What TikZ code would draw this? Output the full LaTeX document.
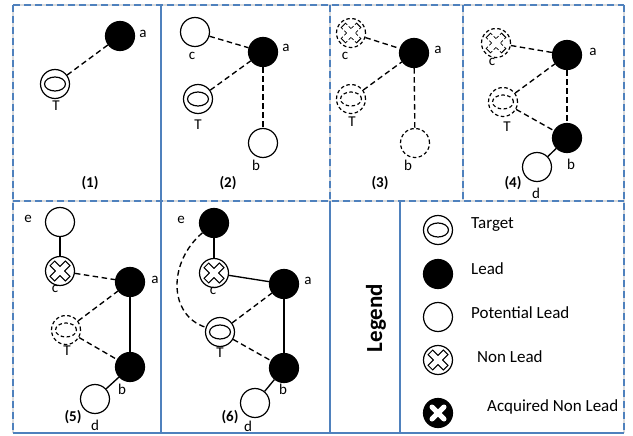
\documentclass[tikz,border=0pt]{standalone}
\usepackage{fontspec}
\setmainfont{Carlito}
\definecolor{frameblue}{RGB}{79,129,189}
\tikzset{
  x=1pt, y=-1pt,
  sym/.style={circle, minimum size=29pt, inner sep=0pt, line width=1.2pt},
  lead/.style={sym, draw, fill=black},
  plead/.style={sym, draw, fill=white},
  dplead/.style={sym, draw, fill=white, dash pattern=on 3.5pt off 2.5pt},
  tgt/.style={sym, draw, fill=white, path picture={
      \draw[line width=1.2pt, solid] (path picture bounding box.center) ellipse (10.5pt and 7pt);}},
  dtgt/.style={sym, draw, fill=white, dash pattern=on 3.5pt off 2.5pt, path picture={
      \draw[line width=1.2pt, dash pattern=on 3.5pt off 2.5pt] (path picture bounding box.center) ellipse (10.5pt and 7pt);}},
  nonlead/.style={sym, draw, fill=white, path picture={
      \draw[line width=7.6pt, black, solid]
        (path picture bounding box.center) ++(-8pt,-8pt) -- ++(16pt,16pt)
        (path picture bounding box.center) ++(-8pt,8pt) -- ++(16pt,-16pt);
      \draw[line width=5pt, white, solid]
        (path picture bounding box.center) ++(-7.2pt,-7.2pt) -- ++(14.4pt,14.4pt)
        (path picture bounding box.center) ++(-7.2pt,7.2pt) -- ++(14.4pt,-14.4pt);}},
  dnonlead/.style={sym, draw, fill=white, dash pattern=on 3.5pt off 2.5pt, path picture={
      \draw[line width=7pt, black, dash pattern=on 3pt off 2pt]
        (path picture bounding box.center) ++(-8pt,-8pt) -- ++(16pt,16pt)
        (path picture bounding box.center) ++(-8pt,8pt) -- ++(16pt,-16pt);
      \draw[line width=5pt, white, solid]
        (path picture bounding box.center) ++(-7.2pt,-7.2pt) -- ++(14.4pt,14.4pt)
        (path picture bounding box.center) ++(-7.2pt,7.2pt) -- ++(14.4pt,-14.4pt);}},
  acq/.style={sym, draw, fill=black, path picture={
      \draw[line width=5pt, white, line cap=round]
        (path picture bounding box.center) ++(-6pt,-6pt) -- ++(12pt,12pt)
        (path picture bounding box.center) ++(-6pt,6pt) -- ++(12pt,-12pt);}},
  conn/.style={line width=1.35pt, dash pattern=on 5.5pt off 3.5pt},
  sconn/.style={line width=1.35pt},
  lbl/.style={font=\fontsize{15}{17}\selectfont, inner sep=0pt},
  num/.style={font=\fontsize{15}{17}\selectfont\bfseries, inner sep=0pt},
  legt/.style={font=\fontsize{17}{20}\selectfont, anchor=west, inner sep=0pt},
  shade/.style={line width=2.6pt, black!14},
  frs/.style={line width=1.5pt, frameblue},
  frd/.style={line width=1.6pt, frameblue, dash pattern=on 7pt off 4pt},
}
\begin{document}
\begin{tikzpicture}
\useasboundingbox (0,0) rectangle (633,436);

% ---- panel frames ----
\foreach \p/\q in {{(13,5)}/{(624,5)}, {(13,5)}/{(13,433)}, {(624,5)}/{(624,433)},
                   {(13,201)}/{(624,201)}, {(330,5)}/{(330,201)}, {(463,5)}/{(463,201)}} {
  \draw[shade] \p -- \q;
  \draw[frd] \p -- \q;
}
\draw[frs] (13,433) -- (624,433);
\draw[frs] (161,5) -- (161,433);
\draw[frs] (330,201) -- (330,433);
\draw[frs] (400,201) -- (400,433);

% ---- (1) ----
\node[lead] (a1) at (120,36) {};
\node[tgt] (t1) at (55,84) {};
\draw[conn] (t1) -- (a1);
\node[lbl] (a1l) at (143,34) {a};
\node[lbl] (t1l) at (56,106) {T};
\node[num] (n1) at (90,183) {(1)};

% ---- (2) ----
\node[plead] (c2) at (195,32) {};
\node[lead] (a2) at (263,52) {};
\node[tgt] (t2) at (198,99) {};
\node[plead] (b2) at (263,143) {};
\draw[conn] (c2) -- (a2);
\draw[conn] (t2) -- (a2);
\draw[conn] (a2) -- (b2);
\node[lbl] (c2l) at (192,56) {c};
\node[lbl] (a2l) at (286,48) {a};
\node[lbl] (t2l) at (198,125) {T};
\node[lbl] (b2l) at (256,165) {b};
\node[num] (n2) at (228,183) {(2)};

% ---- (3) ----
\node[dnonlead] (c3) at (351,33) {};
\node[lead] (a3) at (414,53) {};
\node[dtgt] (t3) at (351,99) {};
\node[dplead] (b3) at (415,143) {};
\draw[conn] (c3) -- (a3);
\draw[conn] (t3) -- (a3);
\draw[conn] (a3) -- (b3);
\node[lbl] (c3l) at (345,56) {c};
\node[lbl] (a3l) at (438,50) {a};
\node[lbl] (t3l) at (352,122) {T};
\node[lbl] (b3l) at (408,165) {b};
\node[num] (n3) at (380,183) {(3)};

% ---- (4) ----
\node[dnonlead] (c4) at (496,43) {};
\node[lead] (a4) at (567,55) {};
\node[dtgt] (t4) at (503,102) {};
\node[lead] (b4) at (567,138) {};
\node[plead] (d4) at (537,167) {};
\draw[conn] (c4) -- (a4);
\draw[conn] (t4) -- (a4);
\draw[conn] (t4) -- (b4);
\draw[conn] (a4) -- (b4);
\draw[sconn] (b4) -- (d4);
\node[lbl] (c4l) at (492,62) {c};
\node[lbl] (a4l) at (593,52) {a};
\node[lbl] (t4l) at (507,127) {T};
\node[lbl] (b4l) at (571,164) {b};
\node[lbl] (d4l) at (536,193) {d};
\node[num] (n4) at (513,183) {(4)};

% ---- (5) ----
\node[plead] (e5) at (60,222) {};
\node[nonlead] (c5) at (60,271) {};
\node[lead] (a5) at (130,282) {};
\node[dtgt] (t5) at (66,330) {};
\node[lead] (b5) at (130,367) {};
\node[plead] (d5) at (95,399) {};
\draw[sconn] (e5) -- (c5);
\draw[conn] (c5) -- (a5);
\draw[conn] (t5) -- (a5);
\draw[conn] (t5) -- (b5);
\draw[sconn] (a5) -- (b5);
\draw[sconn] (b5) -- (d5);
\node[lbl] (e5l) at (28,219) {e};
\node[lbl] (c5l) at (55,289) {c};
\node[lbl] (a5l) at (155,280) {a};
\node[lbl] (t5l) at (67,351) {T};
\node[lbl] (b5l) at (122,389) {b};
\node[lbl] (d5l) at (95,425) {d};
\node[num] (n5) at (73,417) {(5)};

% ---- (6) ----
\node[lead] (e6) at (214,223) {};
\node[nonlead] (c6) at (214,273) {};
\node[lead] (a6) at (284,284) {};
\node[tgt] (t6) at (220,332) {};
\node[lead] (b6) at (284,368) {};
\node[plead] (d6) at (255,403) {};
\draw[sconn] (e6) -- (c6);
\draw[sconn] (c6) -- (a6);
\draw[conn] (t6) -- (a6);
\draw[conn] (t6) -- (b6);
\draw[sconn] (a6) -- (b6);
\draw[sconn] (b6) -- (d6);
\draw[conn] (e6) .. controls (168,262) and (168,315) .. (t6);
\node[lbl] (e6l) at (181,220) {e};
\node[lbl] (c6l) at (213,291) {c};
\node[lbl] (a6l) at (308,281) {a};
\node[lbl] (t6l) at (220,353) {T};
\node[lbl] (b6l) at (283,389) {b};
\node[lbl] (d6l) at (248,426) {d};
\node[num] (n6) at (230,417) {(6)};

% ---- legend ----
\node[font=\fontsize{23}{26}\selectfont\bfseries, rotate=90, inner sep=0pt] (leg) at (376,318) {Legend};
\node[tgt] (lt) at (438,230) {};
\node[lead] (ll) at (438,274) {};
\node[plead] (lp) at (438,317) {};
\node[nonlead] (ln) at (438,360) {};
\node[acq] (la) at (438,413) {};
\node[legt] (ltt) at (471,225) {Target};
\node[legt] (llt) at (471,269) {Lead};
\node[legt] (lpt) at (471,313) {Potential Lead};
\node[legt] (lnt) at (477,357) {Non Lead};
\node[legt] (lat) at (487,407) {Acquired Non Lead};
\end{tikzpicture}
\end{document}
